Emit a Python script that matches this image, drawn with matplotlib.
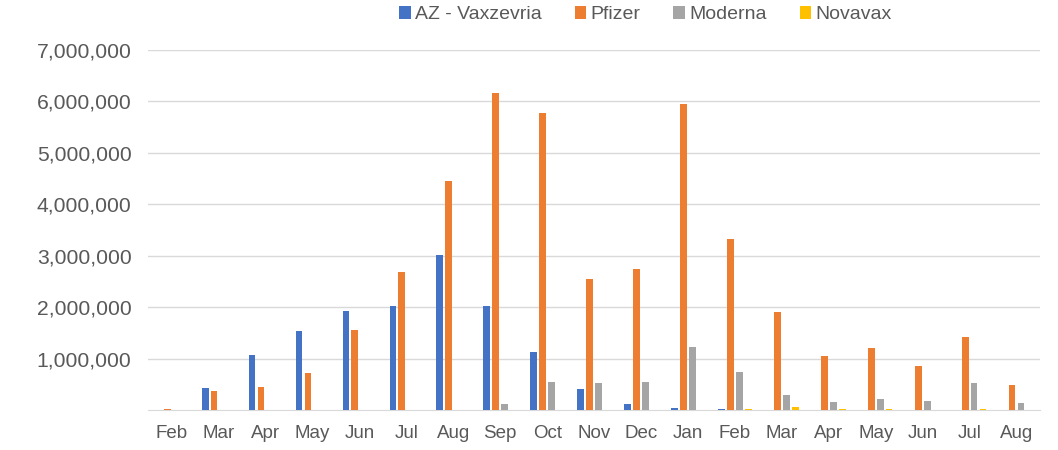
import numpy as np
import matplotlib.pyplot as plt
from matplotlib.ticker import FuncFormatter

# Meses (feb 2021 - ago 2022)
meses = ["Feb", "Mar", "Apr", "May", "Jun", "Jul", "Aug", "Sep", "Oct", "Nov",
         "Dec", "Jan", "Feb", "Mar", "Apr", "May", "Jun", "Jul", "Aug"]

az = [0, 430000, 1060000, 1530000, 1930000, 2020000, 3020000, 2020000, 1130000,
      410000, 110000, 45000, 25000, 0, 0, 0, 0, 0, 0]
pfizer = [26000, 370000, 450000, 710000, 1560000, 2680000, 4450000, 6170000, 5770000,
          2550000, 2750000, 5950000, 3320000, 1910000, 1040000, 1200000, 860000, 1410000, 490000]
moderna = [0, 0, 0, 0, 0, 0, 0, 120000, 550000,
           530000, 550000, 1220000, 730000, 300000, 160000, 220000, 170000, 530000, 140000]
novavax = [0, 0, 0, 0, 0, 0, 0, 0, 0,
           0, 0, 0, 20000, 65000, 25000, 10000, 0, 25000, 0]

series = [("AZ - Vaxzevria", az, "#4472C4"),
          ("Pfizer", pfizer, "#ED7D31"),
          ("Moderna", moderna, "#A5A5A5"),
          ("Novavax", novavax, "#FFC000")]

plt.rcParams['font.family'] = ['Liberation Sans', 'DejaVu Sans']

fig = plt.figure(figsize=(10.58, 4.5), dpi=100)
ax = fig.add_axes([0.14, 0.089, 0.843, 0.8])

x = np.arange(len(meses))
paso = 0.19
ancho = 0.145
for i, (nombre, vals, color) in enumerate(series):
    ax.bar(x + (i - 1.5) * paso, vals, ancho, color=color, label=nombre, zorder=3)

ax.set_xlim(-0.5, len(meses) - 0.5)
ax.set_ylim(0, 7000000)
ax.set_yticks(np.arange(1000000, 7000001, 1000000))
ax.yaxis.set_major_formatter(FuncFormatter(lambda v, p: f"{int(v):,}"))
ax.set_xticks(x)
ax.set_xticklabels(meses)
ax.grid(axis='y', color='#D9D9D9', linewidth=1, zorder=0)
for s in ['top', 'right', 'left']:
    ax.spines[s].set_visible(False)
ax.spines['bottom'].set_color('#D9D9D9')
ax.tick_params(axis='y', length=0, labelsize=15.2, labelcolor='#595959', pad=12)
ax.tick_params(axis='x', length=0, labelsize=13.5, labelcolor='#595959', pad=11)

fig.legend(loc='upper center', bbox_to_anchor=(0.61, 1.025), ncol=4, frameon=False,
           fontsize=14, labelcolor='#595959', handlelength=0.6, handleheight=0.6,
           handletextpad=0.2, columnspacing=1.7)

plt.savefig("out.png", dpi=100)
